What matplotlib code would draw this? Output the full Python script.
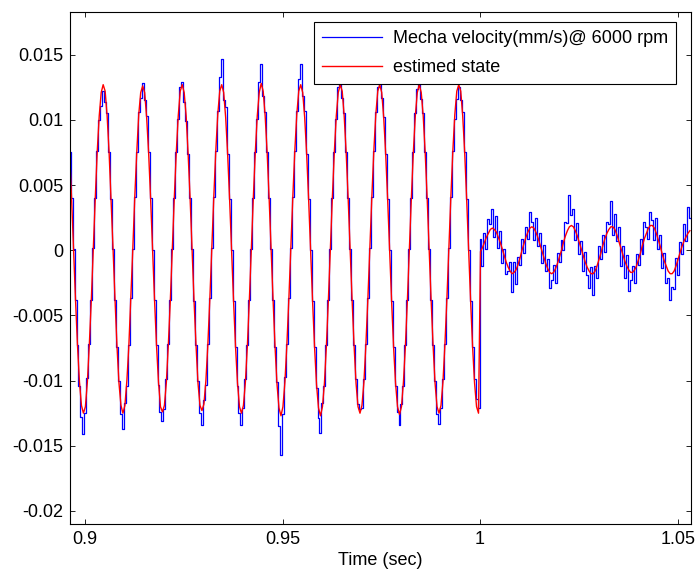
import numpy as np
import matplotlib
matplotlib.use("Agg")
import matplotlib.pyplot as plt

plt.rcParams['font.family'] = ['Liberation Sans', 'DejaVu Sans']

# sampling of the logged signals
t_start = 0.8961
t_step = 0.0005

# estimated state, 6000 rpm part (before t = 1 s)
est_lead = [0.0075, 0.0040, 0.0001, -0.0038, -0.0073, -0.0101, -0.0119]
est_cycles = [
    [-0.0125, -0.0120, -0.0101, -0.0072, -0.0038, 0.0002, 0.0040, 0.0076, 0.0103, 0.0121,
     0.0127, 0.0122, 0.0103, 0.0075, 0.0039, 0.0001, -0.0038, -0.0074, -0.0102, -0.0119],
    [-0.0125, -0.0119, -0.0100, -0.0073, -0.0037, 0.0001, 0.0041, 0.0075, 0.0104, 0.0121,
     0.0126, 0.0121, 0.0102, 0.0075, 0.0040, 0.0000, -0.0038, -0.0073, -0.0101, -0.0120],
    [-0.0124, -0.0119, -0.0101, -0.0072, -0.0038, 0.0001, 0.0040, 0.0075, 0.0103, 0.0122,
     0.0127, 0.0121, 0.0103, 0.0074, 0.0040, 0.0001, -0.0039, -0.0073, -0.0102, -0.0119],
    [-0.0123, -0.0118, -0.0100, -0.0072, -0.0037, 0.0002, 0.0041, 0.0076, 0.0104, 0.0122,
     0.0127, 0.0121, 0.0102, 0.0074, 0.0039, 0.0000, -0.0039, -0.0074, -0.0102, -0.0120],
    [-0.0125, -0.0119, -0.0101, -0.0073, -0.0038, 0.0001, 0.0040, 0.0075, 0.0103, 0.0121,
     0.0128, 0.0122, 0.0103, 0.0075, 0.0040, 0.0001, -0.0038, -0.0074, -0.0103, -0.0121],
    [-0.0127, -0.0120, -0.0101, -0.0072, -0.0037, 0.0002, 0.0041, 0.0076, 0.0104, 0.0122,
     0.0127, 0.0121, 0.0102, 0.0074, 0.0039, 0.0000, -0.0039, -0.0074, -0.0103, -0.0121],
    [-0.0127, -0.0120, -0.0102, -0.0073, -0.0038, 0.0001, 0.0040, 0.0075, 0.0103, 0.0121,
     0.0127, 0.0122, 0.0103, 0.0075, 0.0040, 0.0001, -0.0038, -0.0073, -0.0102, -0.0120],
    [-0.0125, -0.0119, -0.0101, -0.0072, -0.0037, 0.0002, 0.0041, 0.0076, 0.0104, 0.0122,
     0.0127, 0.0121, 0.0102, 0.0074, 0.0039, 0.0000, -0.0039, -0.0074, -0.0102, -0.0120],
    [-0.0126, -0.0120, -0.0101, -0.0073, -0.0038, 0.0001, 0.0040, 0.0075, 0.0103, 0.0121,
     0.0127, 0.0121, 0.0103, 0.0075, 0.0040, 0.0001, -0.0038, -0.0073, -0.0102, -0.0120],
    [-0.0125, -0.0119, -0.0101, -0.0072, -0.0037, 0.0002, 0.0041, 0.0076, 0.0104, 0.0122,
     0.0127, 0.0122, 0.0103, 0.0075, 0.0039, 0.0000, -0.0039, -0.0074, -0.0102, -0.0120],
]
est_last = [-0.0125]

# estimated state after the speed change (t >= 1 s)
est_after = [
    -0.0001, 0.0002, 0.0006, 0.0010, 0.0013, 0.0016, 0.0017, 0.0016, 0.0014, 0.0010,
    0.0006, 0.0001, -0.0004, -0.0009, -0.0013, -0.0016, -0.0018, -0.0017, -0.0015, -0.0011,
    -0.0006, 0.0000, 0.0005, 0.0010, 0.0014, 0.0017, 0.0018, 0.0017, 0.0014, 0.0010,
    0.0005, 0.0000, -0.0005, -0.0010, -0.0014, -0.0017, -0.0018, -0.0017, -0.0014, -0.0010,
    -0.0005, 0.0000, 0.0006, 0.0011, 0.0015, 0.0018, 0.0019, 0.0018, 0.0015, 0.0011,
    0.0006, 0.0001, -0.0004, -0.0009, -0.0013, -0.0016, -0.0018, -0.0018, -0.0016, -0.0012,
    -0.0007, -0.0002, 0.0004, 0.0009, 0.0013, 0.0016, 0.0018, 0.0018, 0.0016, 0.0012,
    0.0007, 0.0002, -0.0003, -0.0008, -0.0012, -0.0015, -0.0017, -0.0017, -0.0015, -0.0012,
    -0.0007, -0.0002, 0.0004, 0.0009, 0.0013, 0.0017, 0.0019, 0.0019, 0.0017, 0.0013,
    0.0008, 0.0003, -0.0003, -0.0008, -0.0012, -0.0016, -0.0018, -0.0018, -0.0016, -0.0012,
    -0.0007, -0.0002, 0.0003, 0.0007, 0.0010, 0.0013, 0.0015,
]

meas_lead = [0, 0, 0, 0, 0, -0.0003, -0.0009]
meas_cycles = [
    [-0.0016, -0.0005, 0.0003, 0, 0, 0, 0, 0, -0.0003, -0.0010,
     -0.0005, -0.0008, 0.0002, 0, 0, 0, 0, 0, 0.0002, -0.0007],
    [-0.0012, 0.0002, -0.0004, 0, 0, 0, 0, 0, 0.0002, -0.0004,
     0.0002, -0.0006, 0.0001, 0, 0, 0, 0, 0, -0.0002, -0.0004],
    [-0.0007, -0.0003, 0.0002, 0, 0, 0, 0, 0, -0.0002, 0.0003,
     0.0002, -0.0007, -0.0004, 0, 0, 0, 0, 0, 0.0002, -0.0006],
    [-0.0011, 0.0003, -0.0003, 0, 0, 0, 0, 0, 0.0003, 0.0011,
     0.0020, -0.0006, 0.0008, 0, 0, 0, 0, 0, -0.0002, -0.0005],
    [-0.0009, -0.0002, 0.0002, 0, 0, 0, 0, 0, -0.0002, 0.0008,
     0.0015, -0.0004, 0.0003, 0, 0, 0, 0, 0, 0.0002, -0.0014],
    [-0.0030, -0.0006, 0.0004, 0, 0, 0, 0, 0, 0.0003, 0.0009,
     0.0016, -0.0003, 0.0005, 0, 0, 0, 0, 0, -0.0003, -0.0008],
    [-0.0013, 0.0003, -0.0002, 0, 0, 0, 0, 0, -0.0002, 0.0004,
     0.0002, -0.0005, 0.0002, 0, 0, 0, 0, 0, 0.0003, 0.0002],
    [0.0003, -0.0002, 0.0002, 0, 0, 0, 0, 0, 0.0002, 0.0003,
     0.0002, -0.0004, 0, 0, 0, 0, 0, 0, -0.0002, -0.0004],
    [-0.0008, 0.0002, -0.0003, 0, 0, 0, 0, 0, 0.0002, 0.0003,
     0.0001, -0.0005, 0.0002, 0, 0, 0, 0, 0, 0.0002, -0.0006],
    [-0.0008, -0.0002, 0.0002, 0, 0, 0, 0, 0, -0.0003, -0.0006,
     -0.0002, -0.0007, 0.0003, 0, 0, 0, 0, 0, 0.0003, 0.0006],
]
meas_last = [0.0004]
meas_after = [
    0.0010, -0.0014, 0.0007, -0.0009, 0.0011, 0.0004, 0.0015, -0.0006, 0.0012, -0.0008,
    0.0009, -0.0011, 0.0005, -0.0009, -0.0003, 0.0007, -0.0014, 0.0008, -0.0011, 0.0006,
    -0.0005, 0.0009, -0.0007, 0.0008, -0.0005, 0.0012, 0.0004, -0.0009, 0.0011, -0.0007,
    0.0008, -0.0010, 0.0009, -0.0006, 0.0007, -0.0012, -0.0005, 0.0006, -0.0011, 0.0008,
    -0.0004, 0.0008, -0.0006, 0.0011, 0.0006, 0.0024, 0.0008, 0.0014, -0.0007, 0.0010,
    -0.0009, 0.0006, -0.0012, 0.0008, -0.0006, -0.0013, 0.0005, -0.0016, 0.0004, -0.0009,
    0.0010, -0.0005, 0.0008, -0.0010, 0.0009, 0.0004, 0.0020, -0.0006, 0.0012, -0.0005,
    0.0011, -0.0014, 0.0006, -0.0013, 0.0008, -0.0016, -0.0006, 0.0005, -0.0010, 0.0009,
    -0.0004, 0.0011, -0.0007, 0.0013, 0.0005, -0.0008, 0.0010, 0.0004, -0.0009, 0.0012,
    -0.0007, 0.0009, -0.0011, 0.0006, -0.0013, -0.0005, -0.0020, -0.0010, -0.0014, 0.0006,
    -0.0012, 0.0008, -0.0006, 0.0013, -0.0003, 0.0020, 0.0010,
]

x_ticks = [0.9, 0.95, 1.0, 1.05]
x_labels = ['0.9', '0.95', '1', '1.05']
y_ticks = [-0.02, -0.015, -0.01, -0.005, 0, 0.005, 0.01, 0.015]
y_labels = ['-0.02', '-0.015', '-0.01', '-0.005', '0', '0.005', '0.01', '0.015']

est = np.array(est_lead + sum(est_cycles, []) + est_last + est_after)
meas = est + np.array(meas_lead + sum(meas_cycles, []) + meas_last + meas_after)
t = t_start + t_step * np.arange(len(est))

fig = plt.figure(figsize=(6.95, 5.81), dpi=100)
ax = fig.add_axes([0.1007, 0.0981, 0.8931, 0.8818])

# blue measured trace is sample-and-hold, red estimate drawn on top
ax.plot(t, meas, color='#0000ff', lw=0.9, drawstyle='steps-mid',
        label='Mecha velocity(mm/s)@ 6000 rpm')
ax.plot(t, est, color='#ff0000', lw=1.0,
        label='estimed state')

ax.set_xlim(0.8962, 1.0533)
ax.set_ylim(-0.021, 0.0183)
ax.set_xticks(x_ticks)
ax.set_xticklabels(x_labels)
ax.set_yticks(y_ticks)
ax.set_yticklabels(y_labels)
ax.tick_params(direction='in', top=True, right=True, length=3.6, width=0.6,
               labelsize=13, pad=5)
for s in ax.spines.values():
    s.set_linewidth(0.8)
ax.set_xlabel('Time (sec)', fontsize=13, labelpad=3)

leg = ax.legend(loc='upper right', bbox_to_anchor=(0.9763, 0.9799),
                borderaxespad=0, fontsize=13, handlelength=3.3,
                handletextpad=0.6, labelspacing=0.65, borderpad=0.45,
                fancybox=False, framealpha=1, edgecolor='black')
leg.get_frame().set_linewidth(0.8)

fig.savefig('out.png', dpi=100, facecolor='white')
